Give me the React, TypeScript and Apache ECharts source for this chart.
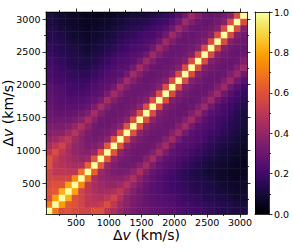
import React, { useEffect, useRef } from "react";
import * as echarts from "echarts";

// Velocity bin centres (km/s), 31 bins on each axis
const VELOCITY_BINS = [92, 191, 290, 389, 488, 587, 686, 784, 883, 982, 1081, 1180, 1279, 1378, 1476, 1575, 1674, 1773, 1872, 1971, 2070, 2168, 2267, 2366, 2465, 2564, 2663, 2761, 2860, 2959, 3058];

// Lower triangle of the symmetric correlation matrix: row j holds bins 0..j
const CORRELATION_ROWS: number[][] = [
  [1],
  [0.70, 1],
  [0.58, 0.78, 1],
  [0.60, 0.62, 0.82, 1],
  [0.58, 0.60, 0.60, 0.80, 1],
  [0.55, 0.55, 0.55, 0.55, 0.74, 1],
  [0.55, 0.50, 0.50, 0.50, 0.50, 0.68, 1],
  [0.60, 0.50, 0.48, 0.46, 0.45, 0.45, 0.64, 1],
  [0.60, 0.52, 0.47, 0.44, 0.42, 0.40, 0.42, 0.62, 1],
  [0.50, 0.58, 0.50, 0.44, 0.40, 0.38, 0.37, 0.40, 0.62, 1],
  [0.45, 0.50, 0.55, 0.46, 0.40, 0.37, 0.34, 0.35, 0.39, 0.61, 1],
  [0.40, 0.42, 0.46, 0.50, 0.42, 0.37, 0.33, 0.32, 0.34, 0.38, 0.61, 1],
  [0.36, 0.38, 0.38, 0.42, 0.48, 0.40, 0.34, 0.31, 0.32, 0.33, 0.38, 0.60, 1],
  [0.33, 0.34, 0.34, 0.36, 0.40, 0.46, 0.38, 0.32, 0.30, 0.31, 0.33, 0.38, 0.60, 1],
  [0.31, 0.31, 0.31, 0.31, 0.34, 0.37, 0.45, 0.37, 0.31, 0.30, 0.31, 0.33, 0.38, 0.59, 1],
  [0.30, 0.29, 0.28, 0.28, 0.29, 0.31, 0.35, 0.44, 0.36, 0.31, 0.30, 0.31, 0.33, 0.38, 0.59, 1],
  [0.28, 0.27, 0.26, 0.26, 0.26, 0.27, 0.29, 0.34, 0.44, 0.36, 0.31, 0.30, 0.31, 0.33, 0.38, 0.58, 1],
  [0.27, 0.26, 0.25, 0.24, 0.24, 0.24, 0.26, 0.28, 0.33, 0.44, 0.36, 0.31, 0.30, 0.31, 0.33, 0.36, 0.58, 1],
  [0.26, 0.25, 0.24, 0.22, 0.22, 0.22, 0.23, 0.25, 0.27, 0.33, 0.43, 0.36, 0.31, 0.30, 0.31, 0.32, 0.36, 0.58, 1],
  [0.25, 0.24, 0.23, 0.21, 0.20, 0.20, 0.21, 0.23, 0.25, 0.27, 0.32, 0.43, 0.36, 0.31, 0.30, 0.30, 0.32, 0.36, 0.58, 1],
  [0.23, 0.22, 0.21, 0.19, 0.18, 0.18, 0.18, 0.21, 0.23, 0.25, 0.26, 0.32, 0.43, 0.36, 0.31, 0.29, 0.30, 0.32, 0.36, 0.58, 1],
  [0.22, 0.21, 0.19, 0.18, 0.17, 0.16, 0.16, 0.18, 0.21, 0.23, 0.25, 0.26, 0.32, 0.43, 0.36, 0.30, 0.29, 0.30, 0.32, 0.36, 0.58, 1],
  [0.21, 0.20, 0.18, 0.16, 0.15, 0.14, 0.14, 0.16, 0.18, 0.21, 0.23, 0.25, 0.26, 0.32, 0.43, 0.35, 0.30, 0.29, 0.30, 0.32, 0.36, 0.58, 1],
  [0.20, 0.18, 0.17, 0.15, 0.14, 0.13, 0.12, 0.14, 0.16, 0.18, 0.21, 0.23, 0.24, 0.26, 0.32, 0.42, 0.35, 0.30, 0.29, 0.30, 0.32, 0.36, 0.58, 1],
  [0.18, 0.17, 0.15, 0.14, 0.13, 0.12, 0.10, 0.12, 0.14, 0.16, 0.18, 0.21, 0.22, 0.24, 0.26, 0.31, 0.42, 0.35, 0.30, 0.29, 0.30, 0.32, 0.36, 0.58, 1],
  [0.17, 0.16, 0.14, 0.13, 0.12, 0.10, 0.09, 0.10, 0.12, 0.14, 0.16, 0.18, 0.20, 0.22, 0.23, 0.25, 0.31, 0.42, 0.35, 0.30, 0.29, 0.30, 0.32, 0.36, 0.58, 1],
  [0.15, 0.15, 0.13, 0.11, 0.10, 0.09, 0.08, 0.09, 0.10, 0.12, 0.14, 0.16, 0.18, 0.20, 0.21, 0.23, 0.25, 0.31, 0.42, 0.35, 0.30, 0.29, 0.30, 0.32, 0.36, 0.58, 1],
  [0.14, 0.14, 0.12, 0.10, 0.09, 0.08, 0.07, 0.08, 0.09, 0.10, 0.12, 0.14, 0.16, 0.17, 0.19, 0.21, 0.22, 0.25, 0.31, 0.42, 0.35, 0.30, 0.29, 0.30, 0.32, 0.36, 0.58, 1],
  [0.13, 0.13, 0.10, 0.09, 0.08, 0.07, 0.06, 0.07, 0.08, 0.09, 0.10, 0.12, 0.14, 0.15, 0.16, 0.18, 0.20, 0.22, 0.25, 0.31, 0.42, 0.35, 0.30, 0.29, 0.30, 0.32, 0.36, 0.58, 1],
  [0.12, 0.11, 0.09, 0.08, 0.07, 0.06, 0.06, 0.06, 0.07, 0.08, 0.09, 0.10, 0.12, 0.13, 0.14, 0.15, 0.17, 0.19, 0.21, 0.25, 0.31, 0.42, 0.35, 0.30, 0.29, 0.30, 0.32, 0.36, 0.58, 1],
  [0.12, 0.10, 0.09, 0.08, 0.07, 0.06, 0.05, 0.05, 0.05, 0.06, 0.07, 0.08, 0.09, 0.10, 0.11, 0.11, 0.13, 0.15, 0.17, 0.20, 0.25, 0.31, 0.42, 0.35, 0.30, 0.29, 0.30, 0.32, 0.36, 0.58, 1],
];

const X_RANGE = [43, 3107];
const Y_RANGE = [28, 3107];
const MAJOR_TICKS = [500, 1000, 1500, 2000, 2500, 3000];
const MINOR_TICKS = [250, 750, 1250, 1750, 2250, 2750];
const CBAR_RANGE = [0, 1];
const AXIS_TITLE = "{a|Δ}{i|v}{a| (km/s)}";

const INFERNO = [
  "#000004", "#08051d", "#160b39", "#280b53", "#420a68", "#57106e", "#6a176e",
  "#7e1e6c", "#932667", "#a82e5f", "#bc3754", "#cf4446", "#dd513a", "#ea632a",
  "#f37819", "#f98e09", "#fca50a", "#f9c127", "#f6d746", "#f2ec6f", "#fcffa4",
];

const FONT = "DejaVu Sans";
const MAIN = { left: 46, top: 12, width: 201, height: 202 };
const CBAR = { left: 255, top: 12, width: 14, height: 202 };

const line = { color: "#000", width: 0.8 };

export default function App() {
  const ref = useRef<HTMLDivElement>(null);

  useEffect(() => {
    if (!ref.current) return;
    const chart = echarts.init(ref.current, undefined, { renderer: "svg" });

    const n = VELOCITY_BINS.length;
    const data: number[][] = [];
    for (let r = 0; r < n; r++) {
      for (let c = 0; c < n; c++) {
        const v = c <= r ? CORRELATION_ROWS[r][c] : CORRELATION_ROWS[c][r];
        data.push([c, r, v]);
      }
    }

    const rich = {
      a: { fontSize: 14, fontFamily: FONT, fill: "#000", color: "#000" },
      i: { fontSize: 14, fontFamily: FONT, fontStyle: "italic", fill: "#000", color: "#000" },
    };
    const tickLabel = { fontSize: 9.5, fontFamily: FONT, color: "#000" };
    const plain = (v: number) => String(v);

    const valueAxis = (extra: any) => ({
      type: "value",
      z: 10,
      splitLine: { show: false },
      axisLine: { show: false, onZero: false, lineStyle: line },
      axisTick: { show: false },
      axisLabel: { show: false },
      ...extra,
    });

    const xMain = (position: string, ticks: number[], len: number, showLine: boolean, labels: boolean) =>
      valueAxis({
        gridIndex: 0,
        position,
        min: X_RANGE[0],
        max: X_RANGE[1],
        axisLine: { show: showLine, onZero: false, lineStyle: line },
        axisTick: { show: true, customValues: ticks, length: len, lineStyle: line },
        axisLabel: labels
          ? { show: true, customValues: ticks, margin: 3.5, formatter: plain, ...tickLabel }
          : { show: false },
      });

    const yMain = (position: string, ticks: number[], len: number, showLine: boolean, labels: boolean) =>
      valueAxis({
        gridIndex: 0,
        position,
        min: Y_RANGE[0],
        max: Y_RANGE[1],
        axisLine: { show: showLine, onZero: false, lineStyle: line },
        axisTick: { show: true, customValues: ticks, length: len, lineStyle: line },
        axisLabel: labels
          ? { show: true, customValues: ticks, margin: 5.5, formatter: plain, ...tickLabel }
          : { show: false },
      });

    const stops = INFERNO.map((color, i) => ({ offset: i / (INFERNO.length - 1), color }));

    chart.setOption({
      animation: false,
      backgroundColor: "#fff",
      grid: [
        { ...MAIN, containLabel: false, outerBoundsMode: "none" },
        { ...CBAR, containLabel: false, outerBoundsMode: "none" },
      ],
      xAxis: [
        { type: "category", gridIndex: 0, position: "bottom", data: VELOCITY_BINS, show: false },
        xMain("bottom", MAJOR_TICKS, 3.5, true, true),
        xMain("top", MAJOR_TICKS, 3.5, true, false),
        xMain("bottom", MINOR_TICKS, 2, false, false),
        xMain("top", MINOR_TICKS, 2, false, false),
        valueAxis({ gridIndex: 1, position: "bottom", min: 0, max: 1, axisLine: { show: true, onZero: false, lineStyle: line } }),
        valueAxis({ gridIndex: 1, position: "top", min: 0, max: 1, axisLine: { show: true, onZero: false, lineStyle: line } }),
      ],
      yAxis: [
        { type: "category", gridIndex: 0, position: "left", data: VELOCITY_BINS, show: false },
        yMain("left", MAJOR_TICKS, 3.5, true, true),
        yMain("right", MAJOR_TICKS, 3.5, true, false),
        yMain("left", MINOR_TICKS, 2, false, false),
        yMain("right", MINOR_TICKS, 2, false, false),
        valueAxis({ gridIndex: 1, position: "left", min: CBAR_RANGE[0], max: CBAR_RANGE[1], axisLine: { show: true, onZero: false, lineStyle: line } }),
        valueAxis({
          gridIndex: 1,
          position: "right",
          min: CBAR_RANGE[0],
          max: CBAR_RANGE[1],
          interval: 0.2,
          axisLine: { show: true, onZero: false, lineStyle: line },
          axisTick: { show: true, length: 3.5, lineStyle: line },
          minorTick: { show: true, splitNumber: 2, length: 2, lineStyle: line },
          axisLabel: {
            show: true,
            margin: 5,
            formatter: (v: number) => v.toFixed(1),
            ...tickLabel,
          },
        }),
      ],
      visualMap: {
        type: "continuous",
        show: false,
        min: CBAR_RANGE[0],
        max: CBAR_RANGE[1],
        dimension: 2,
        seriesIndex: 0,
        inRange: { color: INFERNO },
      },
      graphic: [
        {
          type: "rect",
          z: 1,
          shape: { x: CBAR.left, y: CBAR.top, width: CBAR.width, height: CBAR.height },
          style: { fill: new echarts.graphic.LinearGradient(0, 1, 0, 0, stops) },
        },
        {
          type: "text",
          x: MAIN.left + MAIN.width / 2,
          y: 235,
          style: { text: AXIS_TITLE, rich, align: "center", verticalAlign: "middle", fontSize: 14, fontFamily: FONT },
        },
        {
          type: "text",
          x: 8,
          y: MAIN.top + MAIN.height / 2,
          rotation: Math.PI / 2,
          style: { text: AXIS_TITLE, rich, align: "center", verticalAlign: "middle", fontSize: 14, fontFamily: FONT },
        },
      ],
      series: [
        {
          type: "heatmap",
          xAxisIndex: 0,
          yAxisIndex: 0,
          data,
          itemStyle: { borderWidth: 0 },
          emphasis: { disabled: true },
          progressive: 0,
        },
      ],
    });

    return () => chart.dispose();
  }, []);

  return (
    <div
      ref={ref}
      style={{ position: "fixed", left: 0, top: 0, width: 293, height: 252 }}
    />
  );
}
